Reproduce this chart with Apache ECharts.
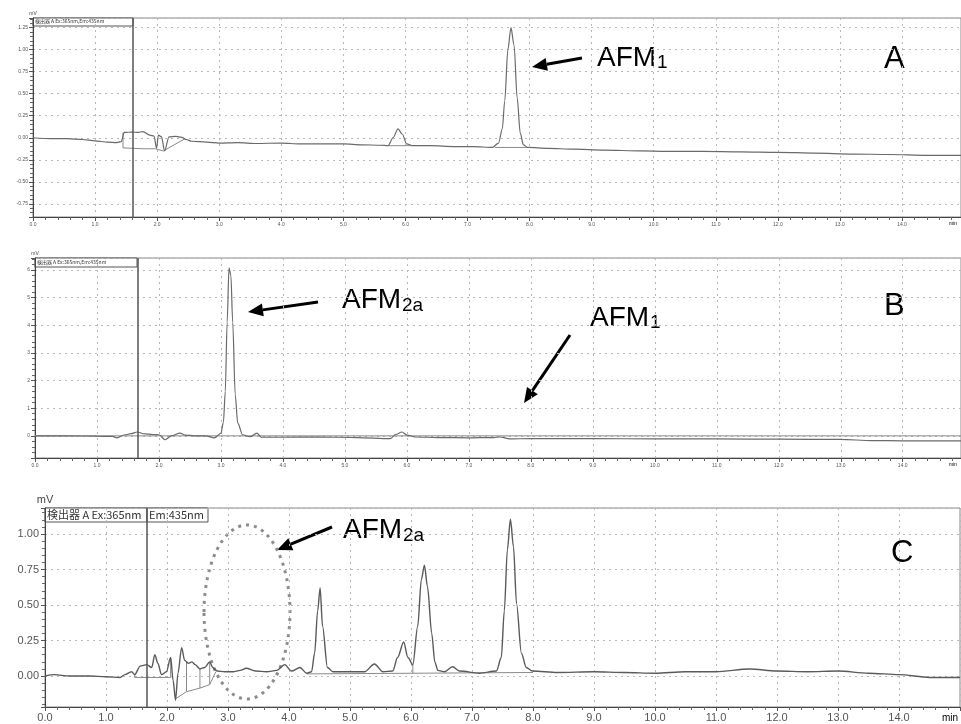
<!DOCTYPE html>
<html>
<head>
<meta charset="utf-8">
<title>HPLC chromatograms A B C</title>
<script src="https://cdn.jsdelivr.net/npm/echarts@6.0.0/dist/echarts.min.js"></script>
<style>
    html, body {margin: 0; padding: 0; background: #fff;}
    #main {width: 961px; height: 724px;}
</style>
</head>
<body>
<div id="main"></div>
<script>
// retention time (min), signal (mV)
var traceA = [[0.00, 0.00], [0.30, -0.01], [0.55, -0.01], [0.80, -0.02], [1.00, -0.035], [1.20, -0.05], [1.35, -0.055],
    [1.42, -0.045], [1.47, 0.06], [1.60, 0.065], [1.70, 0.06], [1.77, 0.07], [1.88, 0.03], [1.95, 0.02], [1.99, -0.12],
    [2.02, 0.03], [2.07, 0.01], [2.12, -0.15], [2.19, 0.01], [2.30, 0.015], [2.40, 0.005], [2.47, -0.02], [2.55, -0.04],
    [2.80, -0.05], [3.00, -0.06], [3.30, -0.055], [3.60, -0.065], [4.00, -0.06], [4.30, -0.07], [4.60, -0.07],
    [5.00, -0.07], [5.30, -0.08], [5.60, -0.085], [5.72, -0.09], [5.80, 0.00], [5.88, 0.10], [5.95, 0.04], [6.02, -0.07],
    [6.12, -0.09], [6.40, -0.09], [6.80, -0.10], [7.10, -0.10], [7.40, -0.11], [7.50, -0.06], [7.56, 0.10], [7.60, 0.42],
    [7.65, 1.00], [7.70, 1.25], [7.75, 1.05], [7.80, 0.45], [7.85, 0.05], [7.90, -0.08], [7.97, -0.11], [8.30, -0.12],
    [8.70, -0.13], [9.20, -0.14], [9.80, -0.15], [10.2, -0.155], [10.8, -0.155], [11.4, -0.16], [12.0, -0.165],
    [12.6, -0.175], [13.2, -0.185], [13.8, -0.19], [14.4, -0.20], [14.95, -0.20]];
var baseA = [[1.45, 0.06], [1.45, -0.115], [1.77, -0.125], [1.97, -0.125], [2.10, -0.15], [2.45, -0.01], [2.46, null],
    [5.72, -0.09], [6.12, -0.09], [6.13, null], [7.44, -0.11], [7.97, -0.11]];

var traceB = [[0.00, 0.00], [0.50, 0.00], [1.00, -0.01], [1.25, -0.02], [1.32, -0.07], [1.45, 0.04], [1.55, 0.08],
    [1.65, 0.14], [1.77, 0.07], [1.90, 0.05], [2.00, 0.04], [2.10, -0.14], [2.20, 0.00], [2.34, 0.10], [2.42, 0.03],
    [2.58, 0.00], [2.75, 0.00], [2.90, -0.07], [3.00, 0.10], [3.04, 0.50], [3.07, 1.60], [3.10, 4.10], [3.13, 6.07],
    [3.16, 5.80], [3.19, 4.10], [3.23, 1.50], [3.27, 0.47], [3.35, 0.04], [3.47, -0.03], [3.58, 0.10], [3.65, -0.05],
    [4.00, -0.05], [4.60, -0.04], [5.20, -0.06], [5.73, -0.10], [5.82, 0.05], [5.92, 0.14], [6.00, 0.03], [6.13, -0.04],
    [6.50, -0.06], [7.00, -0.07], [7.40, -0.06], [7.50, -0.04], [7.66, -0.11], [8.00, -0.10], [9.00, -0.10],
    [10.0, -0.11], [11.0, -0.11], [12.0, -0.12], [13.0, -0.13], [13.5, -0.17], [14.0, -0.18], [14.94, -0.18]];
var baseB = [[0.00, 0.00], [14.94, 0.00]];

var traceC = [[0.00, 0.00], [0.15, 0.01], [0.40, 0.00], [0.74, 0.00], [1.00, -0.005], [1.23, -0.01], [1.31, 0.01],
    [1.42, 0.03], [1.47, 0.01], [1.56, 0.07], [1.67, 0.08], [1.75, 0.06], [1.80, 0.15], [1.85, 0.09], [1.91, 0.01],
    [1.99, 0.03], [2.06, 0.13], [2.10, -0.03], [2.14, -0.17], [2.18, 0.02], [2.24, 0.20], [2.29, 0.11], [2.35, 0.09],
    [2.41, 0.10], [2.46, 0.08], [2.54, 0.05], [2.62, 0.06], [2.70, 0.10], [2.75, 0.06], [2.82, 0.035], [2.95, 0.03],
    [3.08, 0.03], [3.20, 0.04], [3.30, 0.055], [3.45, 0.035], [3.63, 0.03], [3.80, 0.04], [3.93, 0.08], [4.04, 0.035],
    [4.18, 0.06], [4.29, 0.02], [4.37, 0.03], [4.42, 0.16], [4.47, 0.46], [4.51, 0.62], [4.55, 0.35], [4.63, 0.06],
    [4.72, 0.03], [4.99, 0.03], [5.24, 0.03], [5.40, 0.085], [5.54, 0.03], [5.70, 0.035], [5.78, 0.13], [5.88, 0.24],
    [5.95, 0.13], [6.03, 0.08], [6.11, 0.35], [6.17, 0.68], [6.22, 0.78], [6.27, 0.63], [6.34, 0.30], [6.39, 0.10],
    [6.44, 0.04], [6.55, 0.03], [6.68, 0.065], [6.80, 0.035], [7.12, 0.02], [7.40, 0.035], [7.48, 0.13], [7.53, 0.46],
    [7.58, 0.89], [7.63, 1.105], [7.68, 0.91], [7.73, 0.51], [7.81, 0.16], [7.89, 0.06], [7.99, 0.035], [8.40, 0.025],
    [9.00, 0.03], [9.50, 0.025], [10.0, 0.02], [10.5, 0.03], [11.0, 0.03], [11.55, 0.05], [12.0, 0.035], [12.5, 0.03],
    [13.0, 0.035], [13.5, 0.02], [14.0, 0.01], [14.5, -0.01], [15.0, -0.01]];
var baseC = [[1.47, 0.01], [1.47, -0.01], [2.06, -0.01], [2.06, 0.13], [2.07, null],
    [2.14, -0.16], [2.32, -0.11], [2.54, -0.085], [2.70, -0.06], [2.80, 0.03], [2.81, null],
    [2.32, 0.10], [2.32, -0.11], [2.33, null], [2.54, 0.05], [2.54, -0.085], [2.55, null],
    [2.70, 0.10], [2.70, -0.06], [2.71, null], [4.29, 0.015], [8.00, 0.025], [8.01, null],
    [6.03, 0.08], [6.03, 0.018]];

// vertical event line (min) in each run
var eventLine = [1.61, 1.65, 1.67];
var detectorText = '検出器 A Ex:365nm,Em:435nm';

var myChart = echarts.init(document.getElementById('main'));

function onTick(step) {
    return function (v) {
        var k = v / step;
        return Math.abs(k - Math.round(k)) < 1e-6;
    };
}

function makeX(idx, max, fontSize, margin) {
    var isTick = onTick(1);
    return {
        gridIndex: idx, type: 'value', min: 0, max: max, interval: 1,
        axisLine: {show: true, onZero: false, lineStyle: {color: '#444', width: 1}},
        axisTick: {show: true, length: 4, lineStyle: {color: '#555'}},
        minorTick: {show: true, splitNumber: 5, length: 3, lineStyle: {color: '#666'}},
        axisLabel: {
            fontSize: fontSize, color: '#555', margin: margin, fontFamily: 'Liberation Sans',
            formatter: function (v) { return (isTick(v) && v < 14.5) ? v.toFixed(1) : ''; }
        },
        splitLine: {show: true, lineStyle: {type: [2, 4], color: '#b8b8b8'}}
    };
}

function makeY(idx, min, max, step, digits, fontSize, margin) {
    var isTick = onTick(step);
    return {
        gridIndex: idx, type: 'value', min: min, max: max, minInterval: step, maxInterval: step,
        name: 'mV', nameLocation: 'end', nameGap: fontSize > 8 ? 3 : 2,
        nameTextStyle: {fontSize: fontSize, color: '#444', fontFamily: 'Liberation Sans', align: 'center'},
        axisLine: {show: true, onZero: false, lineStyle: {color: '#444', width: 1}},
        axisTick: {show: true, length: 4, lineStyle: {color: '#555'}},
        minorTick: {show: true, splitNumber: 5, length: 3, lineStyle: {color: '#666'}},
        axisLabel: {
            fontSize: fontSize, color: '#555', margin: margin, fontFamily: 'Liberation Sans',
            formatter: function (v) { return isTick(v) ? v.toFixed(digits) : ''; }
        },
        splitLine: {show: true, lineStyle: {type: [2, 4], color: '#b8b8b8'}}
    };
}

function traceSeries(idx, data, color, width) {
    return {
        type: 'line', xAxisIndex: idx, yAxisIndex: idx, data: data,
        showSymbol: false, smooth: 0.3, smoothMonotone: 'x', silent: true,
        lineStyle: {color: color, width: width},
        markLine: {
            silent: true, symbol: ['none', 'none'], label: {show: false},
            lineStyle: {color: '#555', width: 1.5, type: 'solid'},
            data: [{xAxis: eventLine[idx]}]
        }
    };
}

function baseSeries(idx, data) {
    return {
        type: 'line', xAxisIndex: idx, yAxisIndex: idx, data: data,
        showSymbol: false, connectNulls: false, silent: true,
        lineStyle: {color: '#8a8a8a', width: 1}
    };
}

// arrow = shaft + filled head, pixel coords of tail and tip
function arrow(x1, y1, x2, y2) {
    var dx = x2 - x1, dy = y2 - y1;
    var len = Math.sqrt(dx * dx + dy * dy);
    var ux = dx / len, uy = dy / len;
    var bx = x2 - ux * 15, by = y2 - uy * 15;
    return [
        {type: 'line', shape: {x1: x1, y1: y1, x2: bx, y2: by}, style: {stroke: '#000', lineWidth: 3}},
        {type: 'polygon', shape: {points: [[x2, y2], [bx - uy * 6.5, by + ux * 6.5], [bx + uy * 6.5, by - ux * 6.5]]},
            style: {fill: '#000'}}
    ];
}

function label(x, y, text, size, font) {
    return {type: 'text', x: x, y: y,
        style: {text: text, fill: '#000', font: size + 'px ' + (font || '"Liberation Sans", Arial, sans-serif')}};
}

function detectorBox(x, y, w, h, text, size) {
    return [
        {type: 'rect', shape: {x: x, y: y, width: w, height: h}, style: {fill: '#fff', stroke: '#555', lineWidth: 1}},
        {type: 'text', x: x + 2, y: y + (h - size) / 2 - 0.5,
            style: {text: text, fill: '#333', font: size + 'px "Noto Sans CJK JP", sans-serif'}}
    ];
}

var graphics = [];
graphics = graphics.concat(detectorBox(33, 18, 100, 8, detectorText, 5));
graphics = graphics.concat(detectorBox(35, 258, 102, 9, detectorText, 5));
graphics = graphics.concat(detectorBox(45, 508, 102, 14, '検出器 A Ex:365nm', 11));
graphics = graphics.concat(detectorBox(147, 508, 61, 14, 'Em:435nm', 11));
graphics.push(label(949, 221, 'min', 5, '"Liberation Sans"'));
graphics.push(label(949, 462, 'min', 5, '"Liberation Sans"'));
graphics.push(label(942, 713, 'min', 10, '"Liberation Sans"'));

graphics.push(label(597, 44, 'AFM', 28));
graphics.push(label(657, 53, '1', 19));
graphics.push(label(884, 44, 'A', 31));
graphics = graphics.concat(arrow(582, 58, 532, 67));

graphics.push(label(342, 286, 'AFM', 28));
graphics.push(label(402, 296, '2a', 19));
graphics = graphics.concat(arrow(318, 302, 248, 312));
graphics.push(label(590, 304, 'AFM', 28));
graphics.push(label(650, 313, '1', 19));
graphics = graphics.concat(arrow(570, 335, 524, 403));
graphics.push(label(884, 291, 'B', 31));

graphics.push(label(343, 516, 'AFM', 28));
graphics.push(label(403, 526, '2a', 19));
graphics = graphics.concat(arrow(332, 527, 277, 550));
graphics.push(label(891, 538, 'C', 31));
graphics.push({type: 'ellipse', shape: {cx: 247, cy: 612, rx: 43, ry: 87},
    style: {fill: 'none', stroke: '#8c8c8c', lineWidth: 3, lineDash: [3, 5]}});

var option = {
    backgroundColor: '#fff',
    animation: false,
    grid: [
        {left: 33, top: 18, width: 928, height: 199, show: true, borderColor: '#888', borderWidth: 1,
            outerBoundsMode: 'none', containLabel: false},
        {left: 35, top: 258, width: 926, height: 200, show: true, borderColor: '#888', borderWidth: 1,
            outerBoundsMode: 'none', containLabel: false},
        {left: 45, top: 508, width: 915, height: 199, show: true, borderColor: '#888', borderWidth: 1,
            outerBoundsMode: 'none', containLabel: false}
    ],
    xAxis: [
        makeX(0, 14.95, 5, 5),
        makeX(1, 14.94, 5, 5),
        makeX(2, 15, 11, 5)
    ],
    yAxis: [
        makeY(0, -0.9, 1.36, 0.25, 2, 5, 5),
        makeY(1, -0.8, 6.43, 1, 0, 5, 5),
        makeY(2, -0.218, 1.183, 0.25, 2, 11, 6)
    ],
    series: [
        baseSeries(0, baseA),
        traceSeries(0, traceA, '#6a6a6a', 1.2),
        baseSeries(1, baseB),
        traceSeries(1, traceB, '#6a6a6a', 1.2),
        baseSeries(2, baseC),
        traceSeries(2, traceC, '#5a5a5a', 1.4)
    ],
    graphic: graphics
};

myChart.setOption(option);
</script>
</body>
</html>
